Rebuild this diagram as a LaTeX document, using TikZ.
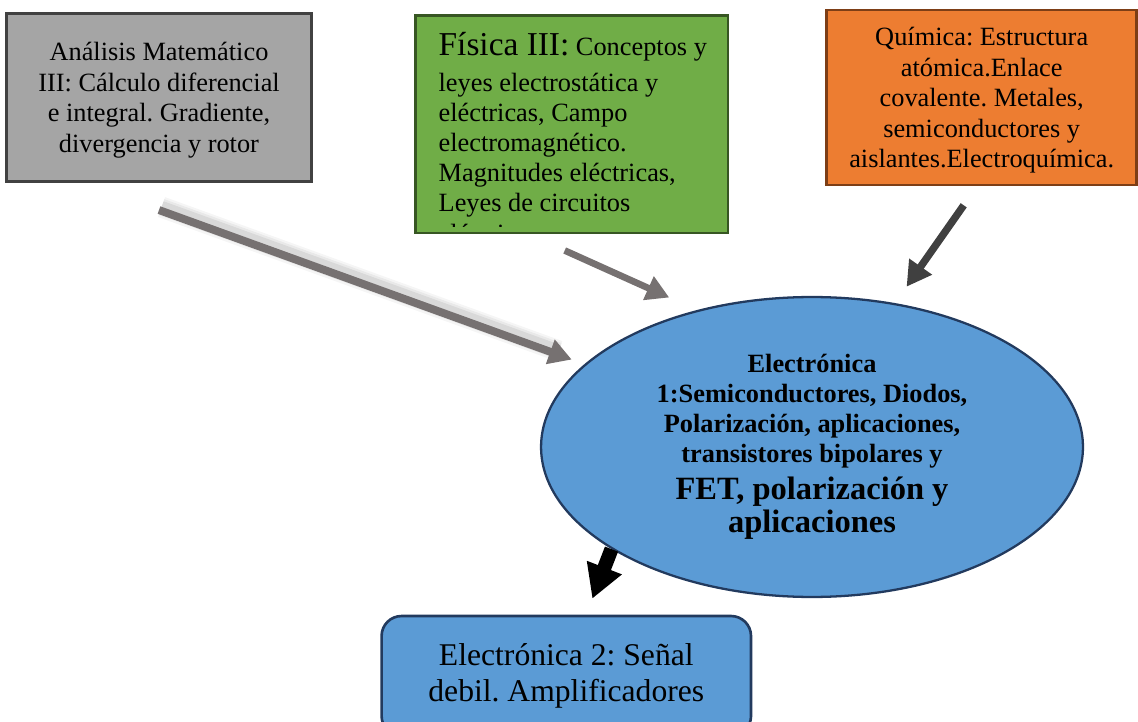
\documentclass[tikz,border=0pt]{standalone}
\usepackage{fontspec}
\setmainfont{Liberation Serif}
\frenchspacing
\usetikzlibrary{positioning,shapes.geometric,arrows.meta}
\definecolor{MatGray}{RGB}{165,165,165}
\definecolor{MatEdge}{RGB}{65,65,65}
\definecolor{FisGreen}{RGB}{112,173,71}
\definecolor{FisEdge}{RGB}{55,86,35}
\definecolor{QuimOrange}{RGB}{237,125,49}
\definecolor{QuimEdge}{RGB}{125,62,22}
\definecolor{ElecBlue}{RGB}{91,155,213}
\definecolor{ElecEdge}{RGB}{34,58,94}
\definecolor{ArrowGray}{RGB}{118,113,113}
\definecolor{ArrowDark}{RGB}{64,64,64}
\tikzset{
	box/.style={draw,line width=1.5pt,inner sep=0pt,align=center,
		font=\fontsize{15}{17.4}\selectfont},
	elecell/.style={ellipse,draw=ElecEdge,fill=ElecBlue,line width=1.3pt,inner sep=0pt,
		minimum width=10.84cm,minimum height=6cm,align=center,
		font=\fontsize{15}{17}\selectfont\bfseries},
	elecbox/.style={box,draw=ElecEdge,fill=ElecBlue,rounded corners=0.4cm,
		minimum width=7.39cm,minimum height=2.4cm,font=\fontsize{18}{20.8}\selectfont},
	grayarr/.style={draw=ArrowGray,line width=4.5pt,-{Triangle[width=14pt,length=13pt]}},
	darkarr/.style={draw=ArrowDark,line width=4.2pt,-{Triangle[width=15pt,length=14pt]}},
	bigarr/.style={draw=black,line width=8pt,-{Triangle[width=20pt,length=19pt]}},
}

\begin{document}
\begin{tikzpicture}[x=0.02cm,y=-0.02cm]
	\useasboundingbox (0,0) rectangle (1138,722);
	% boxes
	\node[box,draw=MatEdge,fill=MatGray,minimum width=6.1cm,minimum height=3.37cm,text depth=0pt] (mat) at (159,97.5)
		{Análisis Matemático\\III: Cálculo diferencial\\e integral. Gradiente,\\divergencia y rotor};
	\node[box,draw=FisEdge,fill=FisGreen,minimum width=6.26cm,minimum height=4.36cm] (fis) at (571.7,124.2) {};
	\begin{scope}
		\clip (418,18) rectangle (726,227);
		\node[anchor=north west,inner sep=0pt,align=left,font=\fontsize{15}{17.2}\selectfont] (fistext) at (438.3,32)
			{{\fontsize{19}{17.2}\selectfont Física III:} Conceptos y\\[3pt]leyes electrostática y\\eléctricas, Campo\\electromagnético.\\Magnitudes eléctricas,\\Leyes de circuitos\\eléctricos};
	\end{scope}
	\node[box,draw=QuimEdge,fill=QuimOrange,minimum width=6.2cm,minimum height=3.5cm,text depth=0pt] (quim) at (981.7,97.5)
		{Química: Estructura\\atómica.Enlace\\covalente. Metales,\\semiconductores y\\aislantes.Electroquímica.};
	\node[elecell] (elec1) at (812,447)
		{Electrónica\\1:Semiconductores, Diodos,\\Polarización, aplicaciones,\\transistores bipolares y\\[4.3pt]
		\fontsize{18.5}{17}\selectfont FET, polarización y\\[1.9pt]\fontsize{18.5}{17}\selectfont aplicaciones};
	\node[elecbox] (elec2) at (566.3,676) {Electrónica 2: Señal\\debil. Amplificadores};
	% arrows
	\foreach \w/\o in {12/0.04,9.5/0.05,7/0.07}
		\draw[line width=\w pt,black,opacity=\o,shorten >=0.6cm,transform canvas={shift={(0.05cm,0.06cm)}}]
			([shift={(0,27)}]mat.south) -- (elec1.160);
	\draw[grayarr,shorten >=0.27cm] ([shift={(0,27)}]mat.south) -- (elec1.160);
	\draw[grayarr,line width=3.8pt,shorten >=0.61cm] ([shift={(-7,16)}]fis.south) -- (elec1.130);
	\draw[darkarr,shorten >=0.4cm] ([shift={(-18,19)}]quim.south) -- (elec1.60);
	\draw[bigarr] (elec1.207) -- ([shift={(26,-16)}]elec2.north);
\end{tikzpicture}
\end{document}
